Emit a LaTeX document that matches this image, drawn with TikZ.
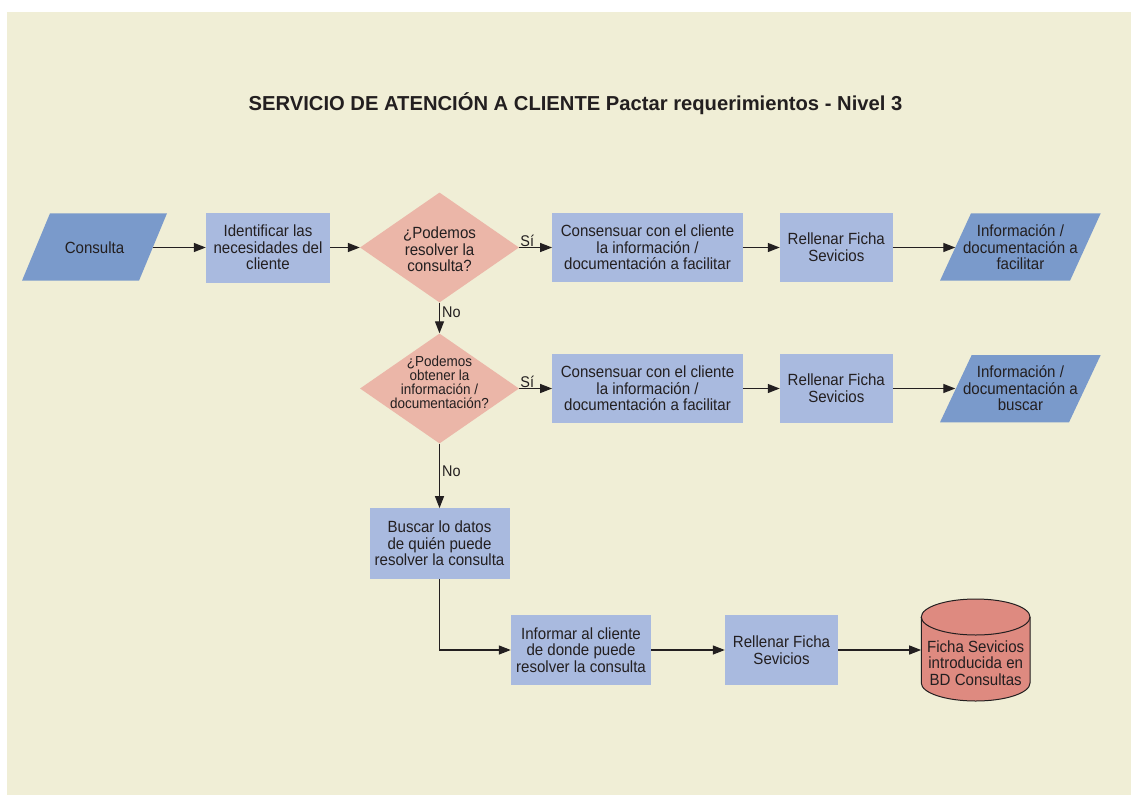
\documentclass[tikz,border=0pt]{standalone}
\usepackage{fontspec}
\setmainfont{Liberation Sans}[FakeStretch=0.93]
\newfontfamily\titlefont{Liberation Sans}
\usetikzlibrary{arrows.meta,shapes.geometric}
\definecolor{bgc}{RGB}{240,238,214}
\definecolor{boxc}{RGB}{169,186,223}
\definecolor{parac}{RGB}{122,154,203}
\definecolor{diac}{RGB}{235,182,168}
\definecolor{cylc}{RGB}{222,138,128}
\definecolor{ink}{RGB}{35,31,32}
\tikzset{
  btext/.style={font=\fontsize{16.2}{16.6}\selectfont, text=ink, align=center},
  procbox/.style={btext, fill=boxc, inner sep=0pt},
  decbox/.style={shape=diamond, fill=diac, inner sep=0pt, minimum width=159pt, minimum height=110pt},
  paratext/.style={btext, inner sep=0pt, minimum height=67pt},
  conn/.style={draw=ink, line width=1.3pt, -{Triangle[length=12pt,width=9pt]}},
  lbl/.style={font=\fontsize{15.5}{16}\selectfont, text=ink, inner sep=1pt},
}
\begin{document}
\begin{tikzpicture}[x=1pt,y=-1pt]
\useasboundingbox (0,0) rectangle (1131,795);
\fill[white] (0,0) rectangle (1131,795);
\fill[bgc] (7,12) rectangle (1131,795);

% title
\node[font=\titlefont\fontsize{20.2}{22}\selectfont\bfseries, text=ink] (title) at (575.5,104)
  {SERVICIO DE ATENCIÓN A CLIENTE Pactar requerimientos - Nivel 3};

% parallelograms
\fill[parac] (22,280.7) -- (50,213.3) -- (167,213.3) -- (139,280.7) -- cycle;
\node[paratext, minimum width=117pt] (cons) at (94.5,247.5) {Consulta};

\fill[parac] (940,280.7) -- (971,213.3) -- (1100.7,213.3) -- (1070,280.7) -- cycle;
\node[paratext, minimum width=129.8pt] (info1) at (1020.4,247.5) {Información /\\documentación a\\facilitar};

\fill[parac] (940,422.3) -- (971.7,355) -- (1100.7,355) -- (1069,422.3) -- cycle;
\node[paratext, minimum width=129.8pt] (info2) at (1020.4,388.5) {Información /\\documentación a\\buscar};

% process boxes
\node[procbox, minimum width=124pt, minimum height=70pt] (ident) at (268,247.5) {Identificar las\\necesidades del\\cliente};
\node[procbox, minimum width=190.4pt, minimum height=69pt] (con1) at (647.5,247.5) {Consensuar con el cliente\\la información /\\documentación a facilitar};
\node[procbox, minimum width=112.7pt, minimum height=69pt] (rel1) at (836.3,247.5) {Rellenar Ficha\\Sevicios};
\node[procbox, minimum width=190.4pt, minimum height=69.3pt] (con2) at (647.5,388.5) {Consensuar con el cliente\\la información /\\documentación a facilitar};
\node[procbox, minimum width=112.7pt, minimum height=69.3pt] (rel2) at (836.3,388.5) {Rellenar Ficha\\Sevicios};
\node[procbox, minimum width=140pt, minimum height=70.4pt] (busc) at (439.5,543.5) {Buscar lo datos\\de quién puede\\resolver la consulta};
\node[procbox, minimum width=140pt, minimum height=70.7pt] (inf) at (581,650) {Informar al cliente\\de donde puede\\resolver la consulta};
\node[procbox, minimum width=113pt, minimum height=69.7pt] (rel3) at (781.5,650) {Rellenar Ficha\\Sevicios};

% decisions
\node[decbox, label={[btext, yshift=-2pt]center:{¿Podemos\\resolver la\\consulta?}}] (d1) at (439.5,247.5) {};
\node[decbox, label={[btext, font=\fontsize{14.5}{14.2}\selectfont, yshift=6pt]center:{¿Podemos\\obtener la\\información /\\documentación?}}] (d2) at (439.5,388.5) {};

% database cylinder
\node[inner sep=0pt, minimum width=108.7pt, minimum height=101.4pt] (db) at (975.7,650) {};
\filldraw[fill=cylc, draw=ink, line width=1pt]
  (921.3,617) -- (921.3,683) arc[start angle=180, end angle=360, x radius=54.35pt, y radius=18pt]
  -- (1030,617) arc[start angle=0, end angle=180, x radius=54.35pt, y radius=18pt] -- cycle;
\draw[ink, line width=1pt] (921.3,617) arc[start angle=180, end angle=360, x radius=54.35pt, y radius=18pt];
\node[btext] (dbtext) at (975.7,663) {Ficha Sevicios\\introducida en\\BD Consultas};

% connectors
\draw[conn] (cons) -- (ident);
\draw[conn] (ident) -- (d1);
\draw[conn] (d1) -- (con1);
\draw[conn] (con1) -- (rel1);
\draw[conn] (rel1) -- (info1);
\draw[conn] (d1) -- (d2);
\draw[conn] (d2) -- (con2);
\draw[conn] (con2) -- (rel2);
\draw[conn] (rel2) -- (info2);
\draw[conn] (d2) -- (busc);
\draw[conn] (busc.south) |- (inf.west);
\draw[conn] (inf) -- (rel3);
\draw[conn] (rel3.east) -- (rel3.east -| db.west);

% labels
\node[lbl, anchor=south west] (si1) at (d1.east) {Sí};
\node[lbl, anchor=south west] (si2) at (d2.east) {Sí};
\node[lbl, anchor=west] (no1) at (441,312) {No};
\node[lbl, anchor=west] (no2) at (441,471) {No};
\end{tikzpicture}
\end{document}
